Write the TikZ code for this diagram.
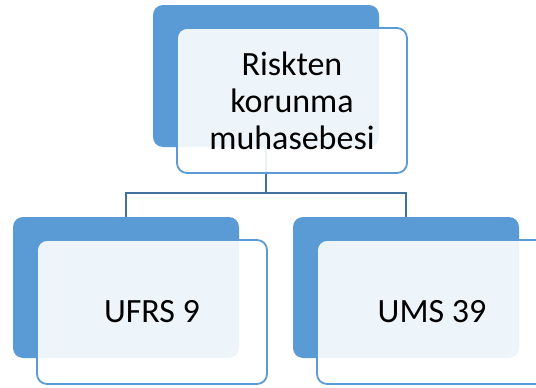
\documentclass[tikz,border=0pt]{standalone}
\usepackage{fontspec}
\setmainfont{Carlito}
\definecolor{accent}{HTML}{5B9BD5}
\definecolor{linkc}{HTML}{41719C}
\begin{document}
\begin{tikzpicture}[x=1pt,y=-1pt,
  backbox/.style={fill=accent,rounded corners=10pt,inner sep=0pt,minimum width=226pt,minimum height=142pt},
  frontbox/.style={draw=accent,line width=1.8pt,fill=white,fill opacity=0.9,text opacity=1,rounded corners=10pt,inner sep=0pt,minimum width=230pt,minimum height=145pt,align=center,font=\fontsize{34}{37}\selectfont},
  link/.style={draw=linkc,line width=2pt}]
\useasboundingbox (0,0) rectangle (536,388);
\clip (0,0) rectangle (536,388);
\node[backbox] (tb) at (266,76) {};
\node[backbox,minimum height=141pt] (lb) at (126,287.5) {};
\node[backbox,minimum height=141pt] (rb) at (406,287.5) {};
\coordinate (mid) at (266,193);
\draw[link] (tb.south) -- (mid) -| (lb.north);
\draw[link] (mid) -| (rb.north);
\node[frontbox] (tf) at (292,100.5) {Riskten\\korunma\\muhasebesi};
\node[frontbox,minimum height=144pt] (lf) at (152,312) {UFRS 9};
\node[frontbox,minimum height=144pt] (rf) at (432,312) {UMS 39};
\end{tikzpicture}
\end{document}
